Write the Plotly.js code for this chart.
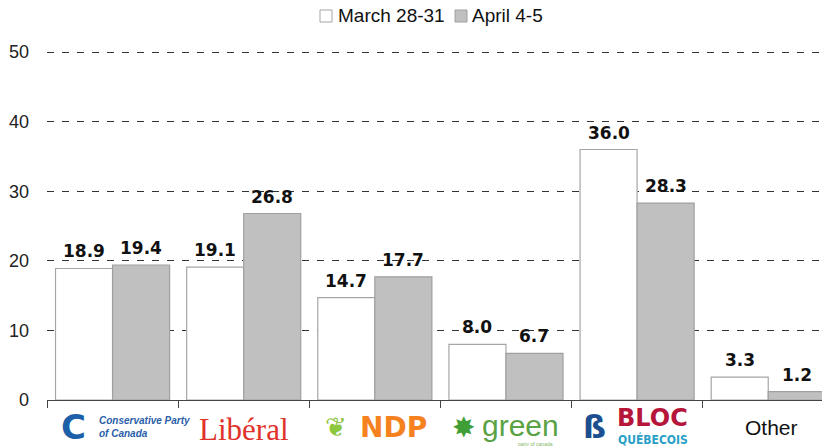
<!DOCTYPE html>
<html>
<head>
<meta charset="utf-8">
<script src="https://cdn.plot.ly/plotly-3.0.1.min.js"></script>
<style>html,body{margin:0;padding:0;background:#fff;}#chart{width:822px;height:446px;}</style>
</head>
<body>
<div id="chart"></div>
<script>
var categories = ["Conservative", "Liberal", "NDP", "Green", "Bloc Québécois", "Other"];
var seriesNames = ["March 28-31", "April 4-5"];
var march = [18.9, 19.1, 14.7, 8.0, 36.0, 3.3];
var april = [19.4, 26.8, 17.7, 6.7, 28.3, 1.2];
var yTicks = [0, 10, 20, 30, 40, 50];

var M = {l: 47, r: 0, t: 50, b: 46};
var W = 822, H = 446;
var pw = W - M.l - M.r, ph = H - M.t - M.b;
function px(x) { return (x - M.l) / pw; }
function py(y) { return (H - M.b - y) / ph; }

var labelFont = {family: "DejaVu Sans", size: 17, color: "#111"};
var fills = ["#ffffff", "#c0c0c0"];
var edges = ["#a6a6a6", "#a0a0a0"];

var traces = [march, april].map(function (vals, s) {
  return {type: "bar", name: seriesNames[s], x: categories, y: vals, showlegend: false,
          marker: {color: fills[s], line: {color: edges[s], width: 1.2}}, hoverinfo: "none"};
});

var annotations = [];
[march, april].forEach(function (vals, s) {
  vals.forEach(function (v, i) {
    annotations.push({
      x: categories[i], y: v, xref: "x", yref: "y",
      xshift: s === 0 ? -28.5 : 28.5, yshift: 5,
      text: "<b>" + v.toFixed(1) + "</b>", showarrow: false,
      xanchor: "center", yanchor: "bottom", font: labelFont
    });
  });
});

// legend (drawn as boxes + text)
var shapes = [];
var legBox = [320, 455], legText = [336, 470];
seriesNames.forEach(function (nm, s) {
  shapes.push({type: "rect", xref: "paper", yref: "paper",
    x0: px(legBox[s]), x1: px(legBox[s] + 12), y0: py(22), y1: py(10),
    fillcolor: fills[s], line: {color: edges[s], width: 1}});
  annotations.push({xref: "paper", yref: "paper", x: px(legText[s]), y: py(16),
    xanchor: "left", yanchor: "middle", showarrow: false, text: nm,
    font: {family: "Liberation Sans", size: 19, color: "#111"}});
});

// logo-like category labels
var logoY = py(427);
function lab(i, dx, dy, txt, font, extra) {
  var a = {x: categories[i], y: logoY, xref: "x", yref: "paper", xshift: dx, yshift: dy,
           yanchor: "middle", showarrow: false, text: txt, font: font};
  if (extra) for (var k in extra) a[k] = extra[k];
  annotations.push(a);
}
lab(0, -39, 0, "<b>C</b>", {family: "DejaVu Sans", size: 34, color: "#1d5fa8"});
lab(0, -16, 0, "<b><i>Conservative Party<br>of Canada</i></b>",
    {family: "Liberation Sans", size: 10, color: "#2a5ea8"}, {xanchor: "left", align: "left"});
lab(1, 0, -2, "Libéral", {family: "Liberation Serif", size: 31, color: "#e0322b"});
lab(2, -39, 0, "❦", {family: "DejaVu Sans", size: 26, color: "#8dc63f"});
lab(2, 19, 0, "<b>NDP</b>", {family: "DejaVu Sans", size: 28, color: "#f5821f"});
lab(3, -42, 0, "✸", {family: "DejaVu Sans", size: 28, color: "#3f9e35"});
lab(3, 15, 2, "green", {family: "Liberation Sans", size: 30, color: "#5ba244"});
lab(3, 30, -17, "party of canada", {family: "Liberation Sans", size: 5, color: "#7fb86a"});
lab(4, -43, 0, "<b>ß</b>", {family: "DejaVu Sans", size: 32, color: "#1b4f8f"});
lab(4, 15, 9, "<b>BLOC</b>", {family: "DejaVu Sans", size: 24, color: "#b5163a"});
lab(4, 16, -12, "<b>QUÉBECOIS</b>", {family: "DejaVu Sans Condensed", size: 12, color: "#2aa0c8"});
lab(5, 3, 0, "Other", {family: "Liberation Sans", size: 21, color: "#111"});

var layout = {
  width: W, height: H,
  margin: {l: M.l, r: M.r, t: M.t, b: M.b, pad: 0},
  paper_bgcolor: "#ffffff", plot_bgcolor: "#ffffff",
  barmode: "group", bargap: 0.13, bargroupgap: 0,
  showlegend: false,
  xaxis: {type: "category", range: [-0.5, 5.41], showline: true, linecolor: "#444", linewidth: 1,
          ticks: "outside", tickson: "boundaries", ticklen: 7, tickcolor: "#444",
          showticklabels: false, showgrid: false, zeroline: false, fixedrange: true},
  yaxis: {range: [0, 50.3], tickvals: yTicks, ticktext: yTicks.map(String), showgrid: true,
          gridcolor: "#333", gridwidth: 1, griddash: "7px,8px", zeroline: false,
          showline: false, ticks: "", ticklabelstandoff: 17,
          tickfont: {family: "Liberation Sans", size: 18, color: "#222"}, fixedrange: true},
  shapes: shapes,
  annotations: annotations
};

Plotly.newPlot("chart", traces, layout, {displayModeBar: false, staticPlot: true});
</script>
</body>
</html>
